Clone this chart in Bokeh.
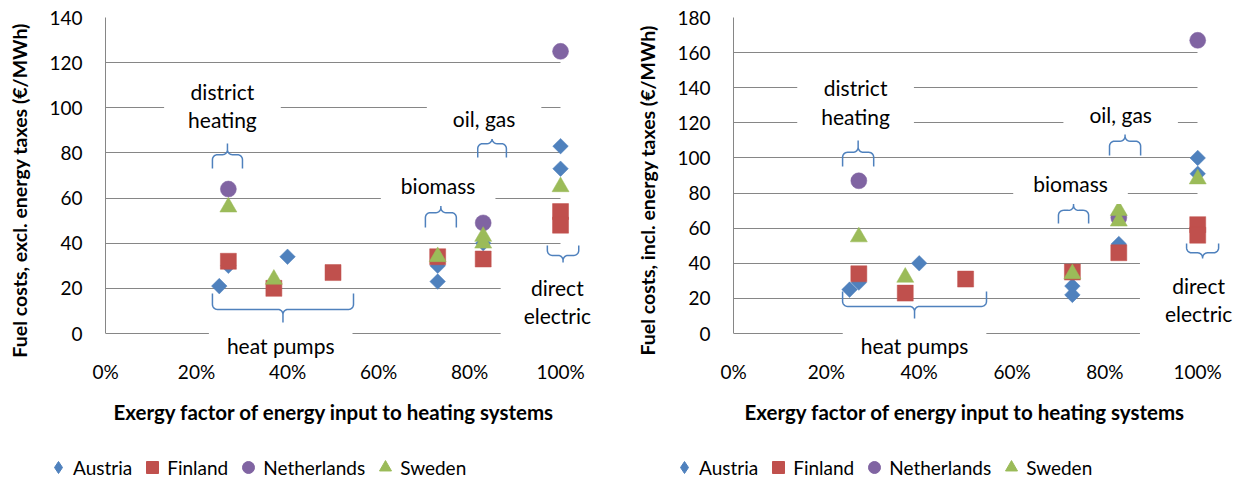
import numpy as np
from bokeh.plotting import figure
from bokeh.models import Range1d, FixedTicker, Label, Legend, LegendItem, Grid, Title
from bokeh.layouts import row, column
from bokeh.embed import file_html
from bokeh.resources import INLINE

# ---------------- data ----------------
countries = ["Austria", "Finland", "Netherlands", "Sweden"]
colors = ["#4F81BD", "#C0504D", "#8064A2", "#9BBB59"]

austria_x = [0.25, 0.27, 0.40, 0.73, 0.73, 0.83, 1.0, 1.0]
austria_excl = [21, 30, 34, 30, 23, 40, 83, 73]
austria_incl = [25, 29, 40, 27, 22, 51, 100, 91]

finland_x = [0.27, 0.37, 0.50, 0.73, 0.83, 1.0, 1.0]
finland_excl = [32, 20, 27, 34, 33, 54, 48]
finland_incl = [34, 23, 31, 35, 46, 62, 56]

netherlands_x = [0.27, 0.83, 1.0]
netherlands_excl = [64, 49, 125]
netherlands_incl = [87, 66, 167]

sweden_x = [0.27, 0.37, 0.73, 0.83, 0.83, 1.0]
sweden_excl = [56, 24, 34, 43, 40, 65]
sweden_incl = [55, 32, 34, 70, 64, 88]

x_ticks = [0, 0.2, 0.4, 0.6, 0.8, 1.0]
x_tick_labels = ["0%", "20%", "40%", "60%", "80%", "100%"]
left_y_ticks = [0, 20, 40, 60, 80, 100, 120, 140]
right_y_ticks = [0, 20, 40, 60, 80, 100, 120, 140, 160, 180]

x_title = "Exergy factor of energy input to heating systems"
left_y_title = "Fuel costs, excl. energy taxes  (€/MWh)"
right_y_title = "Fuel costs, incl. energy taxes  (€/MWh)"

# annotation labels: text, x, y, (horizontal pad, vertical pad)
left_labels = [("district\nheating", 0.257, 101.0, 24, 8),
               ("heat pumps", 0.385, -5.3, 18, 8),
               ("biomass", 0.731, 65.6, 20, 8),
               ("oil, gas", 0.832, 95.3, 26, 8),
               ("direct\nelectric", 0.993, 14.2, 23, 12)]
right_labels = [("district\nheating", 0.263, 131.8, 24, 8),
                ("heat pumps", 0.390, -6.8, 18, 8),
                ("biomass", 0.726, 85.4, 20, 8),
                ("oil, gas", 0.834, 125.0, 26, 8),
                ("direct\nelectric", 1.002, 19.4, 25, 14)]

# curly braces: x0, x1, y at ends, y at tip
left_braces = [(0.235, 0.301, 73.1, 84.2),
               (0.235, 0.545, 17.7, 4.9),
               (0.703, 0.771, 47.0, 58.9),
               (0.818, 0.881, 78.0, 89.1),
               (0.971, 1.040, 39.0, 31.0)]
right_braces = [(0.235, 0.302, 95.1, 109.9),
                (0.235, 0.545, 23.9, 8.5),
                (0.700, 0.765, 62.6, 76.3),
                (0.810, 0.877, 101.4, 116.2),
                (0.976, 1.045, 51.3, 41.6)]

FONT = "Lato"
GRID = "#868686"
BRACE = "#4F81BD"
TOP_PX, ZERO_PX, BOTTOM_PX = 17, 333, 358
CHART_H = 450
LEGEND_H = 35
XMAX = 1.09


def brace_path(x0, x1, ye, yt, sx, sy, r=5.0, frac=0.55):
    s = 1.0 if yt > ye else -1.0
    rx = r / sx
    ry = r / sy
    ym = ye + frac * (yt - ye)
    xc = 0.5 * (x0 + x1)
    t = np.linspace(0, np.pi / 2, 8)
    xs = [x0]
    ys = [ye]
    cx, cy = x0 + rx, ym - s * ry
    xs += list(cx - rx * np.cos(t))
    ys += list(cy + s * ry * np.sin(t))
    cx, cy = xc - rx, ym + s * ry
    xs += list(cx + rx * np.sin(t))
    ys += list(cy - s * ry * np.cos(t))
    xs.append(xc)
    ys.append(yt)
    xr = [x0 + x1 - v for v in reversed(xs)]
    yr = list(reversed(ys))
    return xs + xr[1:], ys + yr[1:]


def make_chart(series, y_ticks, y_title, labels, braces, width, border_left,
               px_per_unit, title_offset):
    ymax = y_ticks[-1]
    sy = (ZERO_PX - TOP_PX) / ymax
    ymin = -(BOTTOM_PX - ZERO_PX) / sy
    frame_w = int(round(px_per_unit * XMAX))
    p = figure(width=width, height=CHART_H,
               x_range=Range1d(0, XMAX), y_range=Range1d(ymin, ymax),
               output_backend="svg", toolbar_location=None,
               min_border_left=border_left,
               min_border_right=width - border_left - frame_w,
               min_border_top=TOP_PX, min_border_bottom=CHART_H - BOTTOM_PX)
    p.outline_line_color = None
    p.background_fill_color = "white"
    p.border_fill_color = "white"

    # grid (gridline at 0 doubles as the horizontal axis line)
    p.xgrid.visible = False
    p.ygrid.ticker = FixedTicker(ticks=y_ticks)
    p.ygrid.grid_line_color = GRID
    p.ygrid.grid_line_width = 1
    if "cross_bounds" in Grid.properties():
        p.ygrid.cross_bounds = (0, 1)

    # axes
    xa = p.xaxis[0]
    xa.ticker = FixedTicker(ticks=x_ticks)
    xa.major_label_overrides = dict(zip(x_ticks, x_tick_labels))
    xa.bounds = (0, 1)
    ya = p.yaxis[0]
    ya.ticker = FixedTicker(ticks=y_ticks)
    ya.bounds = (0, ymax)
    for ax in (xa, ya):
        ax.axis_line_color = GRID
        ax.axis_line_width = 1
        ax.major_tick_line_color = None
        ax.minor_tick_line_color = None
        ax.major_tick_out = 0
        ax.major_tick_in = 0
        ax.major_label_text_font = FONT
        ax.major_label_text_font_size = "19px"
        ax.major_label_text_color = "#000000"
        ax.axis_label_text_font = FONT
        ax.axis_label_text_font_style = "bold"
        ax.axis_label_text_font_size = "19.5px"
        ax.axis_label_text_color = "#000000"
    xa.axis_line_color = None
    xa.major_label_standoff = 1
    ya.major_label_standoff = 23
    ya.axis_label_standoff = 15
    ya.axis_label = y_title

    # x title
    p.add_layout(Title(text=x_title, align="left", offset=title_offset,
                       text_font=FONT, text_font_style="bold", text_font_size="20.5px",
                       text_color="#000000", standoff=25), "below")

    # braces
    sx = px_per_unit
    bxs, bys = [], []
    for (x0, x1, ye, yt) in braces:
        bx, by = brace_path(x0, x1, ye, yt, sx, sy)
        bxs.append(bx)
        bys.append(by)
    p.multi_line(xs=bxs, ys=bys, line_color=BRACE, line_width=1.5)

    # series
    markers = [("square", 45), ("square", 0), ("circle", 0), ("triangle", 0)]
    sizes = [11, 16, 16, 17]
    for (name, col, (xs, ys), (mk, ang), sz) in zip(countries, colors, series, markers, sizes):
        p.scatter(x=xs, y=ys, marker=mk, angle=np.deg2rad(ang), size=sz,
                  fill_color=col, line_color=col, line_width=0.5)

    # labels with white boxes
    for (txt, lx, ly, ph, pv) in labels:
        lab = Label(x=lx, y=ly, text=txt, text_font=FONT, text_font_size="21px",
                    text_color="#000000", text_align="center", text_baseline="middle",
                    text_line_height=1.15,
                    background_fill_color="white",
                    padding=dict(left=ph, right=ph, top=pv, bottom=pv))
        p.add_layout(lab)
    return p


def make_legend(width, x_left, series):
    # same data, drawn out of view: only the legend keys show
    q = figure(width=width, height=LEGEND_H, x_range=Range1d(0, 1), y_range=Range1d(1000, 1001),
               output_backend="svg", toolbar_location=None,
               min_border=0, min_border_left=0, min_border_right=0,
               min_border_top=0, min_border_bottom=0)
    q.outline_line_color = None
    q.axis.visible = False
    q.grid.visible = False
    leg_markers = ["diamond", "square", "circle", "triangle"]
    items = []
    for name, col, mk, (xs, ys) in zip(countries, colors, leg_markers, series):
        r = q.scatter(x=xs, y=ys, marker=mk, size=12, fill_color=col, line_color=col)
        items.append(LegendItem(label=name, renderers=[r]))
    legend = Legend(items=items, orientation="horizontal", location=(x_left, 3),
                    border_line_color=None, background_fill_alpha=0,
                    padding=0, margin=0, spacing=5, label_standoff=0,
                    glyph_width=30, glyph_height=30,
                    label_text_font=FONT, label_text_font_size="19px",
                    label_text_color="#000000")
    q.add_layout(legend)
    return q


left_series = [(austria_x, austria_excl), (finland_x, finland_excl),
               (netherlands_x, netherlands_excl), (sweden_x, sweden_excl)]
right_series = [(austria_x, austria_incl), (finland_x, finland_incl),
                (netherlands_x, netherlands_incl), (sweden_x, sweden_incl)]

left = make_chart(left_series, left_y_ticks, left_y_title, left_labels, left_braces,
                  622, 105, 455, 8)
right = make_chart(right_series, right_y_ticks, right_y_title, right_labels, right_braces,
                   623, 111, 464, 11)
left_leg = make_legend(622, 43, left_series)
right_leg = make_legend(623, 47, right_series)

layout = column(row(left, right), row(left_leg, right_leg))
open("out.html", "w").write(file_html(layout, INLINE))
